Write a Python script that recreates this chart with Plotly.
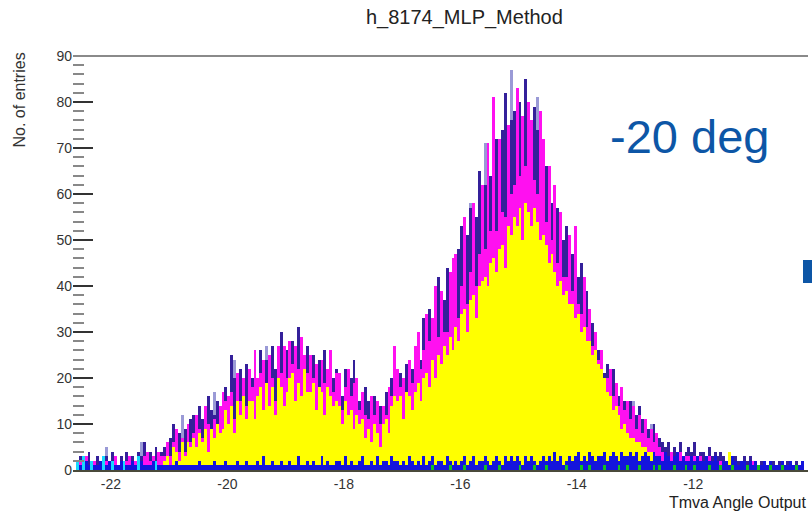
import numpy as np
import plotly.graph_objects as go

# ---------------- data (histogram bin contents, bin width 0.05 from -22.6) ----------------
x_start = -22.6
bin_width = 0.05

navy = [
    2, 3, 1, 2, 4, 2, 1, 3, 2, 1,
    3, 2, 4, 2, 1, 3, 2, 4, 2, 3,
    2, 4, 3, 6, 2, 4, 3, 5, 2, 4,
    5, 4, 7, 10, 6, 8, 5, 9, 7, 11,
    12, 9, 14, 11, 10, 16, 13, 12, 15, 11,
    15, 18, 13, 25, 20, 16, 22, 19, 23, 17,
    20, 23, 18, 26, 21, 24, 19, 27, 22, 25,
    30, 22, 26, 24, 28, 20, 31, 25, 23, 27,
    22, 25, 19, 24, 21, 26, 18, 23, 20, 22,
    19, 16, 22, 18, 20, 24, 17, 15, 14, 18,
    15, 13, 16, 12, 14, 11, 17, 13, 20, 15,
    18, 21, 16, 23, 19, 22, 20, 26, 24, 33,
    30, 35, 28, 38, 42, 33, 37, 44, 36, 40,
    44, 48, 53, 47, 51, 57, 50, 55, 65, 58,
    62, 66, 64, 70, 72, 68, 74, 82, 70, 76,
    78, 76, 80, 74, 85, 72, 70, 79, 74, 68,
    68, 66, 62, 58, 54, 57, 52, 50, 53, 48,
    47, 44, 42, 45, 38, 39, 31, 32, 28, 26,
    24, 21, 23, 19, 22, 18, 16, 17, 15, 14,
    15, 13, 12, 14, 11, 10, 9, 8, 10, 7,
    7, 6, 5, 6, 4, 5, 4, 6, 3, 4,
    5, 4, 6, 3, 4, 4, 3, 5, 3, 4,
    3, 4, 3, 2, 4, 3, 3, 2, 2, 3,
    2, 3, 2, 2, 1, 2, 2, 1, 2, 2,
    1, 2, 2, 1, 2, 1, 1, 2, 1, 2,
]

magenta = [
    1, 2, 1, 3, 1, 1, 2, 1, 2, 1,
    2, 1, 2, 3, 1, 2, 1, 2, 3, 1,
    2, 3, 1, 3, 4, 2, 3, 2, 4, 3,
    3, 6, 3, 6, 9, 4, 7, 4, 10, 6,
    8, 12, 9, 7, 14, 10, 8, 11, 10, 14,
    17, 15, 16, 17, 11, 21, 15, 20, 14, 22,
    18, 26, 20, 21, 24, 19, 25, 20, 15, 27,
    21, 27, 20, 28, 23, 27, 22, 29, 25, 21,
    25, 20, 23, 18, 24, 19, 22, 26, 17, 21,
    21, 13, 18, 22, 16, 19, 20, 13, 17, 12,
    11, 16, 12, 15, 10, 14, 12, 18, 16, 27,
    22, 18, 20, 17, 24, 19, 27, 30, 22, 26,
    34, 28, 33, 40, 29, 39, 30, 30, 43, 46,
    47, 33, 40, 55, 36, 43, 58, 40, 47, 62,
    48, 71, 52, 81, 52, 72, 56, 55, 75, 60,
    62, 83, 64, 77, 66, 80, 76, 63, 60, 78,
    72, 54, 66, 50, 62, 45, 56, 42, 42, 51,
    39, 53, 36, 34, 42, 31, 35, 27, 30, 24,
    26, 18, 20, 22, 16, 19, 14, 18, 13, 15,
    11, 14, 9, 12, 8, 11, 7, 9, 6, 8,
    5, 4, 4, 3, 4, 3, 3, 4, 2, 3,
    3, 2, 3, 2, 3, 2, 2, 3, 2, 2,
    2, 2, 1, 2, 2, 1, 2, 1, 1, 2,
    1, 1, 2, 1, 1, 1, 1, 1, 1, 1,
    1, 1, 1, 1, 1, 1, 1, 1, 1, 1,
]

yellow = [
    0, 0, 0, 0, 0, 0, 0, 0, 0, 0,
    0, 0, 0, 0, 0, 0, 0, 0, 0, 0,
    0, 0, 0, 0, 0, 0, 1, 0, 1, 1,
    2, 3, 1, 5, 4, 2, 6, 3, 6, 5,
    7, 5, 8, 6, 9, 4, 9, 7, 10, 8,
    9, 13, 10, 14, 8, 15, 12, 16, 11, 15,
    15, 11, 16, 18, 13, 19, 14, 18, 12, 20,
    18, 14, 17, 20, 21, 15, 19, 16, 22, 17,
    17, 19, 13, 18, 17, 12, 18, 16, 14, 15,
    14, 10, 15, 12, 13, 9, 12, 10, 11, 7,
    9, 6, 10, 8, 5, 10, 11, 8, 14, 16,
    15, 16, 11, 17, 16, 13, 17, 19, 15, 20,
    21, 18, 24, 20, 25, 23, 27, 25, 29, 26,
    31, 28, 34, 35, 30, 37, 38, 33, 40, 41,
    42, 40, 45, 46, 43, 48, 49, 44, 53, 51,
    55, 53, 57, 50, 58, 56, 53, 57, 54, 50,
    51, 49, 45, 47, 43, 40, 41, 38, 39, 36,
    36, 33, 34, 30, 31, 28, 28, 25, 26, 23,
    22, 20, 17, 16, 13, 14, 12, 9, 10, 8,
    7, 7, 6, 6, 5, 5, 4, 4, 3, 3,
    3, 2, 2, 2, 2, 1, 1, 1, 1, 1,
    2, 1, 2, 1, 1, 1, 1, 1, 1, 1,
    1, 1, 1, 1, 4, 1, 1, 0, 1, 0,
    0, 1, 0, 0, 1, 0, 0, 0, 0, 0,
    0, 0, 0, 0, 0, 0, 0, 0, 0, 0,
]

lavender = [
    0, 0, 0, 0, 0, 0, 0, 0, 0, 0,
    5, 0, 0, 0, 0, 0, 0, 0, 0, 0,
    0, 0, 6, 0, 0, 0, 0, 0, 0, 0,
    0, 0, 0, 0, 0, 0, 12, 0, 0, 0,
    0, 0, 0, 0, 0, 0, 0, 17, 0, 0,
    0, 0, 0, 0, 24, 0, 0, 0, 0, 0,
    0, 0, 0, 0, 0, 27, 0, 0, 0, 0,
    0, 0, 0, 0, 0, 0, 0, 29, 0, 0,
    0, 24, 0, 0, 0, 0, 0, 0, 0, 0,
    0, 0, 0, 0, 0, 0, 0, 0, 0, 0,
    0, 0, 0, 0, 0, 0, 0, 0, 0, 0,
    0, 0, 0, 0, 0, 0, 0, 0, 0, 0,
    0, 0, 0, 0, 0, 0, 0, 0, 0, 0,
    0, 0, 0, 0, 0, 58, 0, 0, 0, 0,
    71, 0, 0, 0, 0, 0, 0, 0, 0, 87,
    0, 0, 0, 0, 0, 0, 0, 0, 81, 0,
    0, 0, 0, 0, 61, 0, 0, 0, 0, 0,
    0, 0, 0, 0, 0, 0, 0, 0, 0, 0,
    0, 0, 0, 0, 0, 19, 0, 0, 0, 0,
    0, 15, 0, 0, 0, 0, 0, 10, 0, 0,
    0, 0, 0, 0, 0, 0, 0, 0, 0, 0,
    0, 0, 0, 0, 0, 0, 0, 0, 0, 0,
    0, 0, 0, 0, 0, 0, 0, 0, 0, 0,
    0, 0, 0, 0, 0, 0, 0, 0, 0, 0,
    0, 0, 0, 0, 0, 0, 0, 0, 0, 0,
]

blue_low = [
    1, 1, 1, 2, 1, 1, 1, 1, 2, 1,
    1, 2, 1, 1, 1, 2, 1, 1, 1, 2,
    1, 1, 2, 1, 1, 1, 2, 1, 1, 1,
    1, 1, 1, 1, 2, 1, 1, 1, 1, 1,
    1, 1, 2, 1, 1, 1, 1, 2, 1, 1,
    1, 2, 1, 1, 1, 2, 1, 1, 2, 1,
    1, 1, 2, 1, 3, 1, 1, 2, 1, 1,
    2, 1, 1, 2, 1, 1, 3, 1, 1, 2,
    1, 2, 1, 1, 3, 1, 2, 1, 1, 2,
    2, 1, 3, 1, 2, 1, 1, 2, 3, 1,
    1, 2, 1, 3, 1, 2, 2, 1, 3, 2,
    2, 1, 2, 1, 3, 2, 1, 2, 1, 3,
    1, 2, 3, 1, 2, 2, 1, 3, 2, 1,
    2, 1, 2, 3, 1, 2, 3, 1, 2, 2,
    3, 2, 1, 2, 3, 2, 1, 3, 2, 3,
    2, 3, 2, 1, 3, 2, 3, 2, 1, 2,
    3, 2, 3, 2, 4, 2, 3, 1, 2, 3,
    2, 3, 4, 2, 3, 2, 4, 3, 2, 3,
    3, 4, 2, 3, 4, 3, 2, 4, 3, 3,
    4, 3, 4, 2, 3, 4, 3, 2, 4, 3,
    3, 2, 4, 3, 2, 3, 4, 2, 3, 2,
    2, 3, 2, 3, 2, 2, 3, 2, 2, 3,
    2, 1, 2, 2, 1, 3, 2, 1, 2, 2,
    1, 2, 1, 2, 1, 1, 2, 1, 2, 1,
    1, 1, 2, 1, 1, 2, 1, 1, 1, 2,
]

cyan_low = [
    2, 0, 3, 0, 0, 2, 0, 0, 0, 3,
    0, 0, 2, 0, 0, 0, 2, 0, 0, 0,
    0, 3, 0, 0, 0, 0, 0, 2, 0, 0,
] + [0] * 220

green_low = [0] * 120 + [
    0, 0, 1, 0, 0, 0, 0, 0, 1, 0,
    0, 0, 0, 1, 0, 0, 0, 0, 0, 0,
    1, 0, 0, 0, 0, 1, 0, 0, 0, 0,
    0, 0, 1, 0, 0, 0, 0, 1, 0, 0,
    0, 1, 0, 0, 0, 0, 0, 0, 1, 0,
    0, 0, 0, 1, 0, 0, 1, 0, 0, 0,
    0, 1, 0, 0, 0, 0, 1, 0, 0, 1,
    0, 0, 0, 1, 0, 0, 0, 0, 1, 0,
    1, 0, 0, 0, 0, 1, 0, 0, 0, 1,
    0, 0, 1, 0, 0, 0, 0, 1, 0, 0,
    0, 1, 0, 0, 0, 1, 0, 0, 0, 0,
    1, 0, 0, 0, 1, 0, 0, 0, 1, 0,
    0, 0, 1, 0, 0, 0, 0, 1, 0, 0,
]

x_ticks = [-22, -20, -18, -16, -14, -12]
y_ticks = [0, 10, 20, 30, 40, 50, 60, 70, 80, 90]

centers = x_start + bin_width * (np.arange(len(navy)) + 0.5)

# ---------------- figure ----------------
fig = go.Figure()
series = [
    (lavender, "rgba(120,120,200,0.75)"),
    (navy, "#34209a"),
    (magenta, "#ff10f0"),
    (yellow, "#ffff00"),
    (blue_low, "#1414dc"),
    (cyan_low, "#18d8ff"),
    (green_low, "#10c020"),
]
for vals, col in series:
    fig.add_trace(go.Bar(
        x=centers, y=vals, width=bin_width,
        marker=dict(color=col, line=dict(width=0)),
        showlegend=False, hoverinfo="skip",
    ))

L, R, T, B = 73, 4, 56, 44
W, H = 812, 514
pw, ph = W - L - R, H - T - B

def px(xp):
    return (xp - L) / pw

def py(yp):
    return (H - B - yp) / ph

font = "Liberation Sans, Arial, sans-serif"
fig.update_layout(
    width=W, height=H,
    margin=dict(l=L, r=R, t=T, b=B),
    paper_bgcolor="white", plot_bgcolor="white",
    barmode="overlay", bargap=0,
    font=dict(family=font, color="#333333"),
    xaxis=dict(
        range=[-22.65, -10.03], tickvals=x_ticks, ticktext=[str(v) for v in x_ticks],
        ticks="", showgrid=False, zeroline=False,
        showline=True, linecolor="#4a4a3a", linewidth=2,
        tickfont=dict(size=14, color="#333333"),
    ),
    yaxis=dict(
        range=[0, 90], tickvals=y_ticks, ticks="inside", ticklen=20,
        tickwidth=2, tickcolor="#333333",
        minor=dict(dtick=2, ticks="inside", ticklen=11, tickwidth=1.5, tickcolor="#888888"),
        showgrid=False, zeroline=False, showline=False,
        tickfont=dict(size=14, color="#333333"),
    ),
    shapes=[
        dict(type="line", xref="paper", yref="paper", x0=0, x1=1, y0=1, y1=1,
             line=dict(color="#8a8a8a", width=2)),
        dict(type="rect", xref="paper", yref="paper",
             x0=px(803), x1=px(813), y0=py(283), y1=py(260),
             fillcolor="#0d56a6", line=dict(width=0)),
    ],
    annotations=[
        dict(text="h_8174_MLP_Method", xref="paper", yref="paper",
             x=px(464), y=py(17), xanchor="center", yanchor="middle",
             showarrow=False, font=dict(size=20, color="#222222")),
        dict(text="No. of entries", xref="paper", yref="paper",
             x=px(19), y=py(50), xanchor="center", yanchor="top", textangle=-90,
             showarrow=False, font=dict(size=16, color="#333333")),
        dict(text="Tmva Angle Output", xref="paper", yref="paper",
             x=px(809), y=py(492), xanchor="right", yanchor="top",
             showarrow=False, font=dict(size=16, color="#222222")),
        dict(text="-20 deg", xref="paper", yref="paper",
             x=px(608), y=py(136), xanchor="left", yanchor="middle",
             showarrow=False, font=dict(size=47, color="#0d56a6")),
    ],
)

fig.write_html("out.html")
